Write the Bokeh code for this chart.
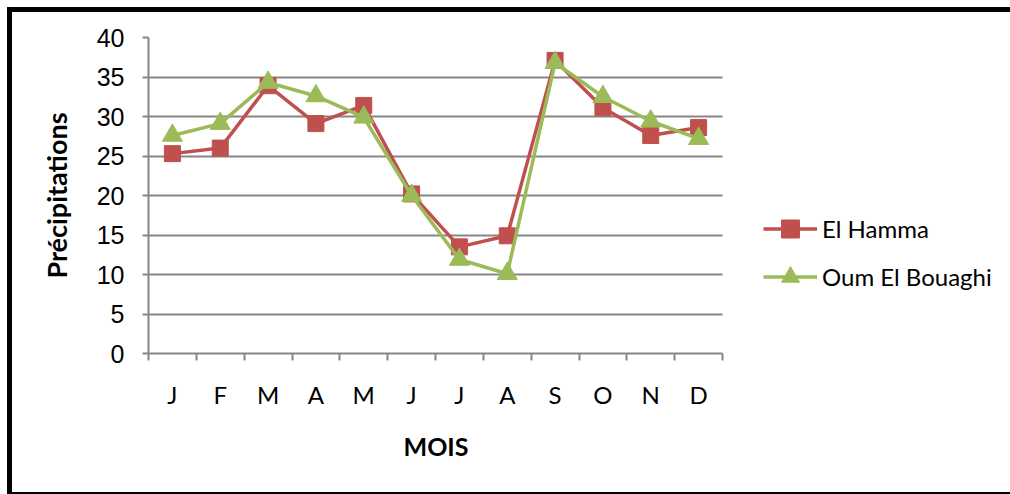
from bokeh.plotting import figure
from bokeh.models import FixedTicker, Range1d, Legend, LegendItem, Title
from bokeh.embed import file_html
from bokeh.resources import INLINE

months = ["J", "F", "M", "A", "M", "J", "J", "A", "S", "O", "N", "D"]
el_hamma = [25.3, 26.0, 33.9, 29.1, 31.4, 20.2, 13.5, 14.9, 37.1, 31.1, 27.6, 28.6]
oum_el_bouaghi = [27.6, 29.1, 34.3, 32.6, 29.9, 20.0, 11.9, 10.1, 36.8, 32.5, 29.4, 27.2]
y_ticks = [0, 5, 10, 15, 20, 25, 30, 35, 40]

RED = "#C0504D"
GREEN = "#9BBB59"
GRAY = "#868686"

n = len(months)
xs = [i + 0.5 for i in range(n)]

W, H = 1010, 487
MBL, MBR, MBT, MBB = 136, 22, 25, 146
PLOT_PX = 574  # width of the category area in pixels
frame_w = W - MBL - MBR
x_end = n * frame_w / PLOT_PX

p = figure(width=W, height=H, output_backend="svg", toolbar_location=None,
           x_range=Range1d(0, x_end), y_range=Range1d(0, 40),
           min_border_left=MBL, min_border_right=MBR, min_border_top=MBT,
           min_border_bottom=MBB)
p.styles = {"margin-left": "7px", "margin-top": "7px",
            "border-left": "5px solid black", "border-top": "5px solid black",
            "border-bottom": "2px solid black"}
p.outline_line_color = None
p.background_fill_color = "white"
p.border_fill_color = "white"

# y axis
p.yaxis.ticker = FixedTicker(ticks=y_ticks)
p.yaxis.axis_line_color = GRAY
p.yaxis.axis_line_width = 2
p.yaxis.major_tick_line_color = GRAY
p.yaxis.major_tick_line_width = 2
p.yaxis.major_tick_out = 6
p.yaxis.major_tick_in = 0
p.yaxis.minor_tick_line_color = None
p.yaxis.major_label_text_font = "Liberation Sans"
p.yaxis.major_label_text_font_size = "25px"
p.yaxis.major_label_text_color = "black"
p.yaxis.major_label_standoff = 18
p.yaxis.axis_label = "Précipitations"
p.yaxis.axis_label_text_font = "Lato"
p.yaxis.axis_label_text_font_style = "bold"
p.yaxis.axis_label_text_font_size = "27px"
p.yaxis.axis_label_text_color = "black"
p.yaxis.axis_label_standoff = 21

# x axis: labels at centers, ticks at boundaries
p.xaxis.bounds = (0, n)
p.xaxis.ticker = FixedTicker(ticks=xs, minor_ticks=list(range(n + 1)))
p.xaxis.major_label_overrides = {x: m for x, m in zip(xs, months)}
p.xaxis.axis_line_color = GRAY
p.xaxis.axis_line_width = 2
p.xaxis.major_tick_line_color = None
p.xaxis.minor_tick_line_color = GRAY
p.xaxis.minor_tick_line_width = 2
p.xaxis.minor_tick_out = 7
p.xaxis.minor_tick_in = 0
p.xaxis.major_label_text_font = "Lato"
p.xaxis.major_label_text_font_size = "24px"
p.xaxis.major_label_text_color = "black"
p.xaxis.major_label_standoff = 19

# x axis title centred under the category area
MOIS_W = 64
p.add_layout(Title(text="MOIS", align="left", offset=(PLOT_PX - MOIS_W) / 2,
                   text_font="Lato", text_font_style="bold",
                   text_font_size="25px", text_color="black", standoff=34),
             "below")

p.xgrid.grid_line_color = None
ygrid = p.ygrid[0]
ygrid.ticker = FixedTicker(ticks=y_ticks)
ygrid.grid_line_color = GRAY
ygrid.grid_line_width = 2
if "cross_bounds" in ygrid.properties():
    ygrid.cross_bounds = (0, n)
else:
    ygrid.visible = False
    p.segment(x0=[0] * len(y_ticks), y0=y_ticks, x1=[n] * len(y_ticks),
              y1=y_ticks, line_color=GRAY, line_width=2)

l1 = p.line(xs, el_hamma, line_color=RED, line_width=3.5)
s1 = p.scatter(xs, el_hamma, marker="square", size=16, fill_color=RED,
               line_color=RED)
l2 = p.line(xs, oum_el_bouaghi, line_color=GREEN, line_width=3.5)
s2 = p.scatter(xs, oum_el_bouaghi, marker="triangle", size=20, fill_color=GREEN,
               line_color=GREEN)

legend = Legend(items=[LegendItem(label="El Hamma", renderers=[l1, s1]),
                       LegendItem(label="Oum El Bouaghi", renderers=[l2, s2])],
                location=(615, 54), margin=0, padding=0, spacing=3,
                glyph_width=54, glyph_height=45, label_height=45,
                label_standoff=5, label_text_font="Lato",
                label_text_font_size="24px", label_text_color="black",
                border_line_color=None, background_fill_alpha=0)
p.add_layout(legend, "center")

open("out.html", "w").write(file_html(p, INLINE))
